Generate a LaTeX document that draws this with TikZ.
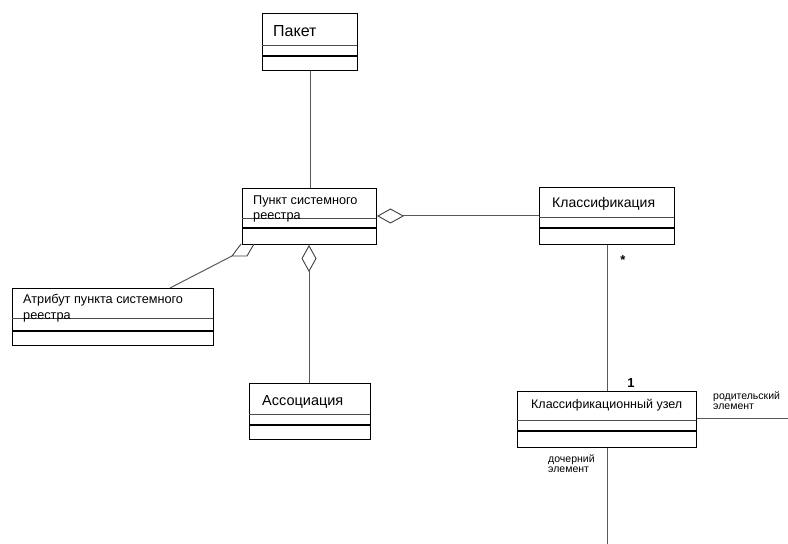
\documentclass[tikz,border=0pt]{standalone}
\usepackage{fontspec}
\setmainfont{Liberation Sans}
\usetikzlibrary{arrows.meta}
\tikzset{
  umlbox/.style={draw=black, line width=1bp, inner sep=0pt, anchor=north west},
  divthin/.style={draw=black!70, line width=0.6bp},
  divthick/.style={draw=black, line width=1.1bp},
  conn/.style={draw=black!65, line width=1bp},
  agg/.style={conn, {Diamond[open, length=27bp, width=15bp, line width=0.9bp, color=black!75]}-},
  lbl/.style={anchor=base west, inner sep=0pt, font=\fontsize{12.7bp}{15bp}\selectfont, align=left},
  big/.style={anchor=base west, inner sep=0pt, font=\fontsize{14bp}{16bp}\selectfont},
  small/.style={anchor=base west, inner sep=0pt, font=\fontsize{10.5bp}{10bp}\selectfont, align=left},
  mult/.style={anchor=base, inner sep=0pt, font=\bfseries\fontsize{13bp}{14bp}\selectfont}
}
\begin{document}
\begin{tikzpicture}[x=1bp, y=-1bp]
\useasboundingbox (0,0) rectangle (788,544);
% Пакет
\node[umlbox, minimum width=95bp, minimum height=57bp] (pkg) at (262,13) {};
\draw[divthin] (262,45) -- (357,45);
\draw[divthick] (262,56) -- (357,56);
\node[big, font=\fontsize{16bp}{18bp}\selectfont] (pkgt) at (273,37) {Пакет};
% Пункт системного реестра
\node[umlbox, minimum width=134bp, minimum height=56bp] (item) at (242,188) {};
\draw[divthin] (242,218) -- (376,218);
\draw[divthick] (242,228) -- (376,228);
\node[lbl] (itemt) at (253,220) {Пункт системного\\реестра};
% Атрибут
\node[umlbox, minimum width=201bp, minimum height=57bp] (attr) at (12,288) {};
\draw[divthin] (12,318) -- (213,318);
\draw[divthick] (12,331) -- (213,331);
\node[lbl] (attrt) at (23,319) {Атрибут пункта системного\\реестра};
% Ассоциация
\node[umlbox, minimum width=121bp, minimum height=56bp] (assoc) at (249,383) {};
\draw[divthin] (249,414) -- (370,414);
\draw[divthick] (249,425) -- (370,425);
\node[big, font=\fontsize{14.5bp}{16bp}\selectfont] (assoct) at (262,405) {Ассоциация};
% Классификация
\node[umlbox, minimum width=135bp, minimum height=57bp] (cls) at (539,187) {};
\draw[divthin] (539,217) -- (674,217);
\draw[divthick] (539,228) -- (674,228);
\node[big] (clst) at (552,208) {Классификация};
% Классификационный узел
\node[umlbox, minimum width=179bp, minimum height=56bp] (cnode) at (517,391) {};
\draw[divthin] (517,420) -- (696,420);
\draw[divthick] (517,431) -- (696,431);
\node[lbl, font=\fontsize{12.5bp}{15bp}\selectfont] (cnodet) at (531,408) {Классификационный узел};
% connectors
\draw[conn] (pkg.south -| 310,0) -- (item.north -| 310,0);
\draw[agg] (item.east |- 0,216) -- (cls.west |- 0,216);
\draw[agg] (item.south -| 309,0) -- (assoc.north -| 309,0);
\draw[conn] (cls.south -| 607,0) -- (cnode.north -| 607,0);
\coordinate (rightend) at (788,418);
\coordinate (bottomend) at (607,544);
\draw[conn] (cnode.east |- 0,418) -- (rightend);
\draw[conn] (cnode.south -| 607,0) -- (bottomend);
% skewed aggregation to Атрибут
\coordinate (dA) at (241,244);
\coordinate (dB) at (254,244);
\coordinate (dC) at (247,256);
\coordinate (dD) at (232,256);
\draw[draw=black!75, line width=0.9bp] (dA) -- (dD) -- (dC) -- (dB);
\draw[conn] (dD) -- (attr.north -| 170,0);
% labels
\node[mult] (star) at (623,265) {*};
\node[mult] (one) at (631,387) {1};
\node[small] (par) at (713,409) {родительский\\элемент};
\node[small] (chl) at (548,472) {дочерний\\элемент};
\end{tikzpicture}
\end{document}
